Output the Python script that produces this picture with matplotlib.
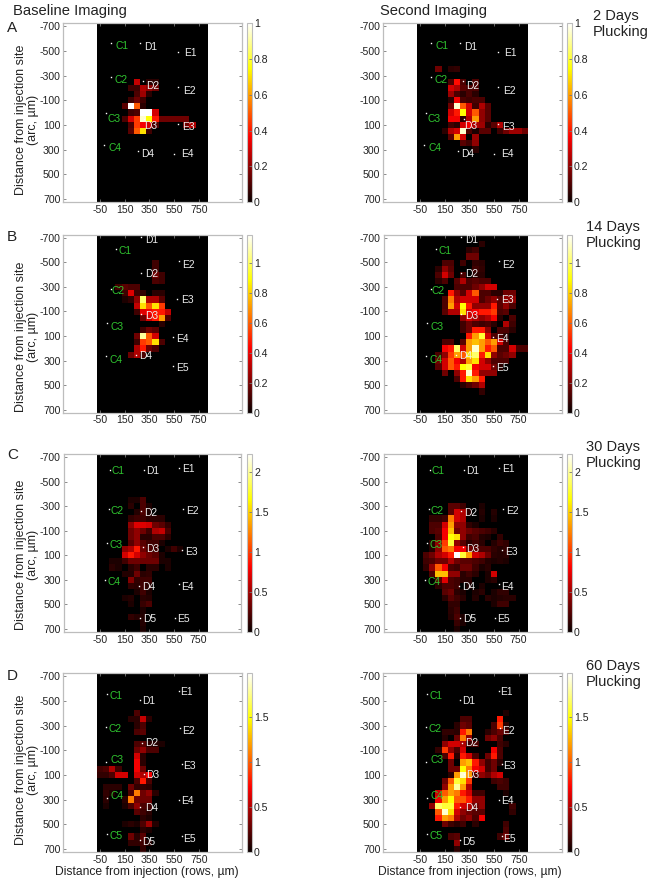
import numpy as np
import matplotlib
matplotlib.use('Agg')
import matplotlib.pyplot as plt

plt.rcParams['font.family'] = ['Liberation Sans', 'DejaVu Sans']
plt.rcParams['axes.unicode_minus'] = False

W, H = 656, 883

# heatmap cells: row -> (first column, values), as a fraction of the colour scale
# rows run -700..700 and columns -50..800, both in 50 um steps
a_base = {
    9: (6, [.28, 0, .05, .05]),
    10: (5, [.08, .08, .25, .2, .15]),
    11: (6, [.1, .22, .05]),
    12: (5, [.08, .15, .08]),
    13: (4, [.12, 1, .5, .05]),
    14: (5, [.08, .1, 1, 1, .3]),
    15: (4, [.1, .3, .45, .95, .75, .4, .15, .15, .15, .15, .15]),
    16: (5, [.1, .45, .35, .3, .1, 0, 0, 0, 0, .15, .25]),
    17: (5, [.12, .5, .7, .08]),
}
a_second = {
    7: (3, [.15, 0, .05, .06]),
    9: (5, [.1, .38, .1, 0, .1]),
    10: (5, [.3, .25, .12, .1, .1]),
    11: (5, [.22, .1, .05, .1, .05]),
    12: (5, [.05, .35, .1, .08, .1, .1]),
    13: (5, [.15, .95, .5, .3, .08, .25, .12]),
    14: (5, [.3, .4, .75, .3, .5, .2, .12]),
    15: (5, [.35, .35, .05, .25, .6, .2, .12]),
    16: (5, [.08, .05, .3, .35, .25, .22, .05, .12, .25]),
    17: (4, [.05, .25, .3, .95, .1, .03, .12, .12, 0, .08, .15, .22, .22, .15]),
    18: (5, [.12, .6, .3, 0, .22]),
    19: (7, [.12, .08, .2]),
    20: (9, [.05]),
}
b_base = {
    4: (9, [.08]),
    5: (9, [.08]),
    6: (9, [.15, .08]),
    7: (9, [.1, .08]),
    8: (3, [.08, .12, .1, .1]),
    9: (4, [.08, .32, .08, .06, 0, .05, .05]),
    10: (4, [.03, .06, .2, .85, .25, .25, .12]),
    11: (6, [.28, .7, .5, .7, .45]),
    12: (6, [.08, .32, .35, .4, .4, .28]),
    13: (7, [.15, .3, .4, .6, .1]),
    14: (10, [.05]),
    15: (7, [.08, .15, .12]),
    16: (6, [.15, .9, .5, .3]),
    17: (6, [.08, .45, .5, .7, .1]),
    18: (6, [.25, .4, .15, .1]),
    19: (5, [.15, .25, .1]),
}
b_second = {
    1: (10, [.05]),
    2: (8, [.05, .08]),
    3: (8, [.15, .15]),
    4: (4, [.1, .1, 0, .08, 0, .06, .05]),
    5: (3, [.05, .2, .12, 0, 0, 0, .08, .06]),
    6: (3, [.1, .3, .15, 0, .1, 0, .05, .05]),
    7: (3, [.05, .1, 0, .12, .25, .1, .12, .1, .1]),
    8: (6, [.1, .1, .1, .15, .2, .3, .3]),
    9: (5, [.4, .2, .12, .3, .5, .1, .1, .05, .05, .15, .15]),
    10: (4, [.1, .55, .25, .3, .3, .3, .1, .15, .2, .12, .2, .2]),
    11: (4, [.1, .6, .3, .75, .4, .2, .2, .2, .4, .12, .2, .1]),
    12: (4, [.12, .25, .25, .7, .3, .35, .4, .4, .45, .1, .12]),
    13: (7, [.2, .3, .25, .2, .25, .35, .05, 0, .1]),
    14: (7, [.08, .15, .1, .08, .1, .05, 0, .25, .08]),
    15: (7, [.08, .15, .4, .4, .2, 0, .1, .1, .05]),
    16: (8, [.4, .6, .8, .3, .1, .1, .05]),
    17: (4, [.1, .1, 0, .12, .6, .65, .6, .5, .6, .3, .1]),
    18: (4, [.35, .4, .85, .3, .6, .95, .6, .4, .5, .1, .1, .3, .1, .1]),
    19: (3, [.1, .2, .45, .6, .5, .7, .85, .4, .7, .2, .12, .15, .2]),
    20: (3, [.15, .3, .5, .35, .25, .6, .7, .3, .2, .1, .1, .1]),
    21: (3, [.12, .3, .5, .4, .75, .8, .35, .3, .3, .15, .05]),
    22: (4, [.15, 0, .2, .4, .95, .4, .2, .2, .2]),
    23: (6, [.1, .4, .7, .6, .4]),
    24: (7, [.05, .1, .15, .25]),
    25: (10, [.06]),
}
c_base = {
    7: (5, [.03, .03, .1]),
    8: (5, [.05, 0, .1, .03]),
    9: (6, [.04, .1, .03]),
    10: (5, [.06, .08, .08, .05, .05, .05]),
    11: (5, [.2, .32, .32, .3, .15, .12, .06]),
    12: (5, [.15, .2, .15, .08, .25, .28, .1]),
    13: (5, [.15, .2, .05, .05, .1, .1, .05]),
    14: (5, [.12, .2, .12, .08, .08, .03]),
    15: (4, [.2, .25, .4, .15, .1, .08, 0, .03, .08, .03]),
    16: (4, [.3, .4, .3, .2, .15, .12, .03]),
    17: (2, [.03, .03, .08, .15, .15, .15, .15, .15, .03, .03]),
    18: (2, [.05, .03, 0, .05, .08, 0, .05, .05, 0, .03]),
    19: (4, [.04, .04, .15, .05, .06]),
    20: (5, [.18, .06, .08, .08]),
    21: (5, [.06, .05, .08, .05]),
    22: (6, [.03, .08, .03]),
    23: (4, [.03, .04, 0, .05, .04]),
    24: (5, [.03, 0, .07, .1]),
    25: (7, [.03]),
    26: (5, [.06, .04, .04]),
    27: (7, [.04]),
    28: (7, [.03]),
}
c_second = {
    8: (5, [.12, .12, .08, 0, 0, .03]),
    9: (5, [.12, .3, .25, .05, 0, .04, 0, .04]),
    10: (2, [.06, .06, .08, .55, .3, .25, 0, 0, .03, 0, .03]),
    11: (2, [.1, .1, .3, .6, .2, .2, .06, .03]),
    12: (2, [.1, .12, .35, .65, .15, .2, .15, .12, .1, .08, .05]),
    13: (3, [.1, .35, .75, .7, .2, .08, .1, .04, .03, 0, .06]),
    14: (2, [.05, .2, .45, .8, .2, .12, .05, .08, .05, 0, .04, .08, .06]),
    15: (2, [.04, .2, .5, .55, .35, .35, .15, .12, .1, .1, .06, .04, .06]),
    16: (1, [.1, .15, .25, .3, .4, 1, .8, .6, .3, .25, .15, .05, .04, .05]),
    17: (1, [.08, .1, .15, .15, .25, .15, .12, .12, .1, .08, .04, .03, .04, .03]),
    18: (1, [.06, .2, .5, .35, .1, .08, .15, .15, .08, .03, .05]),
    19: (2, [.1, .65, .65, .2, .2, .05, .08, .05, 0, .03, .3]),
    20: (3, [.12, .32, .1, .08, .05, .05, 0, 0, .03, .05]),
    21: (3, [.05, .1, .1, .08, 0, .03, 0, .03]),
    22: (4, [.12, .15, .05, .03, 0, .03, .05, 0, .03, .06, .06]),
    23: (4, [.05, .12, .08, .05, 0, .04, 0, .05, .03, .04, .05, .05]),
    24: (5, [.06, .06, 0, 0, 0, 0, 0, .03, .08, .08]),
    25: (5, [.05, .08]),
    26: (5, [.04, .1, .03]),
    27: (6, [.07, .03]),
    28: (6, [.03]),
}
d_base = {
    6: (6, [.1]),
    7: (5, [.05, .05, .28, .05]),
    8: (6, [.05, .1]),
    9: (6, [.1, .12]),
    11: (6, [.1, .12, .05, .04, .03]),
    12: (6, [.15, .2, .1, .1]),
    13: (6, [.3, .05]),
    14: (6, [.35, .05]),
    15: (0, [.08, .1, .25, .08, 0, 0, .35, .15]),
    16: (0, [.06, .06, .1, .3, .3, 0, .3, .25, .35]),
    17: (6, [.1, .4, .1]),
    18: (1, [.05, .05, .05, 0, .15, .06, .06, .05]),
    19: (1, [.06, .03, 0, 0, .1, .55, .15, .2, .05]),
    20: (1, [.05, 0, 0, .05, .55, .15, .15, .15]),
    21: (1, [.03, 0, 0, .03, .1, .2, .1, .08]),
    22: (6, [.12, .08, .05]),
    23: (7, [.05, .03]),
    24: (4, [.03, .05, .03, .1, .22, .04]),
    25: (7, [.05, .03]),
    26: (5, [.15, .05, .12]),
    27: (5, [.06, .06, .08, .04]),
    28: (7, [.06]),
}
d_second = {
    6: (14, [.03]),
    7: (7, [.1, .1, 0, 0, 0, 0, .4]),
    8: (6, [.05, .15, .12, 0, 0, 0, .1, .45, .05]),
    9: (4, [.06, .06, .05, .4, .55, 0, 0, .05, .1, .15, .1]),
    10: (4, [.04, 0, .15, .55, .2, 0, 0, .15, .2, .1]),
    11: (4, [.2, .3, .3, .25, .08, .1, 0, 0, 0, .08, .05]),
    12: (3, [.06, .45, .2, .1, .3, 0, 0, 0, 0, .35, .1]),
    13: (4, [.1, .4, .05, .4, .3, .1, 0, .15, .4, .1]),
    14: (5, [.15, 0, .6, .65, .4, .2, .08, .15, .05]),
    15: (5, [.15, .15, .75, .55, .35, .3, .08, .15]),
    16: (5, [.05, .6, .95, .6, .1, .2, .15, .25, .3]),
    17: (4, [.15, .5, .8, .7, .45, 0, 0, 0, .08, .1, .08]),
    18: (4, [.2, .6, .9, .6, .25, 0, 0, 0, 0, .08, .08]),
    19: (3, [.3, .5, .6, .55, .4, .3, .08, .08, 0, 0, 0, .03]),
    20: (3, [.35, .6, .75, .5, .5, .4, .2, .2]),
    21: (2, [.2, .85, .8, .8, .4, .3, .25, .15, .2, 0, 0, 0, 0, .08]),
    22: (3, [.5, .95, .7, .3, .2, .15, .12, .12, 0, 0, 0, 0, .06]),
    23: (3, [.4, .6, .55, .25, .15, .2, .1, .35]),
    24: (4, [.15, .08, .05, .08, 0, .05, 0, 0, 0, 0, .08]),
    25: (14, [.1]),
    26: (5, [.1, .12, 0, 0, 0, 0, 0, 0, .08, .15]),
    27: (6, [.2]),
    28: (6, [.05]),
}

# top of each colour bar and its labelled ticks
cmax = [1.0, 1.187, 2.23, 1.98]
cticks = [
    [0, .2, .4, .6, .8, 1],
    [0, .2, .4, .6, .8, 1],
    [0, .5, 1, 1.5, 2],
    [0, .5, 1, 1.5],
]

# follicle labels: name, dot x, dot y, text x, text y (um)
a_labels = [
    ('C1', 39, -568, 125, -544), ('D1', 271, -563, 363, -536), ('E1', 582, -493, 679, -484),
    ('C2', 36, -293, 120, -263), ('D2', 298, -257, 374, -217), ('E2', 582, -206, 676, -179),
    ('C3', -2, -1, 60, 48), ('D3', 309, 53, 357, 105), ('E3', 582, 91, 663, 116),
    ('C4', -16, 262, 71, 286), ('D4', 255, 310, 339, 337), ('E4', 552, 337, 658, 332),
]
b_labels = [
    ('D1', 282, -703, 368, -682), ('C1', 76, -606, 152, -593), ('D2', 282, -409, 368, -401),
    ('E2', 593, -514, 668, -482), ('C2', 36, -279, 95, -263), ('E3', 571, -203, 663, -190),
    ('D3', 282, -79, 368, -65), ('C3', 1, -3, 90, 26), ('E4', 544, 105, 622, 121),
    ('D4', 244, 251, 322, 267), ('C4', -5, 264, 79, 297), ('E5', 539, 348, 617, 364),
]
c_labels = [
    ('C1', 28, -598, 90, -584), ('D1', 303, -595, 374, -587), ('E1', 590, -611, 668, -603),
    ('C2', 22, -274, 84, -257), ('D2', 282, -260, 360, -244), ('E2', 620, -276, 703, -260),
    ('C3', 1, -3, 79, 18), ('D3', 295, 35, 376, 45), ('E3', 612, 53, 693, 75),
    ('C4', -13, 299, 63, 318), ('D4', 266, 348, 344, 362), ('E4', 587, 337, 660, 359),
    ('D5', 274, 613, 352, 618), ('E5', 557, 608, 630, 618),
]
d_labels = [
    ('C1', 3, -555, 76, -538), ('D1', 276, -509, 347, -498), ('E1', 593, -579, 649, -574),
    ('C2', 1, -293, 71, -276), ('E2', 601, -284, 668, -257), ('D2', 290, -163, 368, -157),
    ('C3', -2, -3, 84, -22), ('E3', 614, 10, 671, 26), ('D3', 309, 94, 379, 102),
    ('C4', 9, 286, 84, 270), ('E4', 590, 302, 660, 313), ('D4', 274, 362, 366, 372),
    ('C5', 3, 581, 76, 599), ('E5', 614, 599, 676, 616), ('D5', 271, 629, 347, 640),
]

panel_letters = ['A', 'B', 'C', 'D']
right_notes = ['2 Days\nPlucking', '14 Days\nPlucking', '30 Days\nPlucking', '60 Days\nPlucking']
note_x = [593, 586, 586, 586]
note_y = [24, 235, 455, 674]
x_ticks = [-50, 150, 350, 550, 750]
y_ticks = [-700, -500, -300, -100, 100, 300, 500, 700]

base_maps = [a_base, b_base, c_base, d_base]
second_maps = [a_second, b_second, c_second, d_second]
all_labels = [a_labels, b_labels, c_labels, d_labels]

# pixel layout of the rows and columns
row_top = [23.3, 234.7, 454, 673.3]
row_bottom = [202, 412.7, 632, 852]
col_left = [63, 383]
col_right = [242, 562]
bar_left = [247, 567]
ylabel_y = [120, 336.7, 555, 770]
letter_y = [28, 237, 455, 676]

GRAY = '#bdbdbd'
TXT = '#222222'

# pure black for empty cells, as in the reference
hot = plt.get_cmap('hot').copy()
hot.set_under('black')


def grid(rows):
    g = np.zeros((29, 18))
    for r, (c, vals) in rows.items():
        g[r, c:c + len(vals)] = vals
    return g


def add_axes(left, top, right, bottom):
    return fig.add_axes([left / W, 1 - bottom / H, (right - left) / W, (bottom - top) / H])


def style_spines(ax):
    for s in ax.spines.values():
        s.set_color(GRAY)
        s.set_linewidth(0.9)


fig = plt.figure(figsize=(W / 100, H / 100), dpi=100, facecolor='white')

for i in range(4):
    for j, maps in enumerate([base_maps, second_maps]):
        ax = add_axes(col_left[j], row_top[i], col_right[j], row_bottom[i])
        im = ax.imshow(grid(maps[i]) * cmax[i], cmap=hot, vmin=1e-6, vmax=cmax[i],
                       extent=[-75, 825, 725, -725], interpolation='nearest', aspect='equal')
        ax.set_xlim(-350, 1100)
        ax.set_ylim(725, -725)
        ax.set_xticks(x_ticks)
        ax.set_yticks(y_ticks)
        ax.tick_params(direction='in', length=2, width=0.6, color='#777777', labelsize=7.6,
                       labelcolor=TXT, pad=2, top=True, right=True)
        style_spines(ax)

        for name, dx, dy, tx, ty in all_labels[i]:
            col = '#2fc42f' if name[0] == 'C' else '#ececec'
            ax.plot(dx, dy, marker='s', ms=1.0, mew=0, color='white')
            ax.text(tx, ty, name, color=col, fontsize=7.4, ha='center', va='center')

        # colour bar
        cax = add_axes(bar_left[j], row_top[i], bar_left[j] + 5, row_bottom[i])
        cb = fig.colorbar(im, cax=cax)
        cb.set_ticks(cticks[i])
        cb.set_ticklabels([str(t) for t in cticks[i]])
        cax.tick_params(direction='in', length=2, width=0.6, color='#777777', labelsize=7.6,
                        labelcolor=TXT, pad=1.5)
        cb.outline.set_edgecolor(GRAY)
        cb.outline.set_linewidth(0.8)

    fig.text(7 / W, 1 - letter_y[i] / H, panel_letters[i], fontsize=11, color=TXT, ha='left', va='center')
    fig.text(27 / W, 1 - ylabel_y[i] / H, 'Distance from injection site\n(arc, µm)', rotation=90,
             fontsize=9, color=TXT, ha='center', va='center', linespacing=1.05)
    fig.text(note_x[i] / W, 1 - note_y[i] / H, right_notes[i], fontsize=10.5, color=TXT,
             ha='left', va='center', linespacing=1.2)

fig.text(13 / W, 1 - 11 / H, 'Baseline Imaging', fontsize=10.6, color=TXT, ha='left', va='center')
fig.text(380 / W, 1 - 11 / H, 'Second Imaging', fontsize=10.6, color=TXT, ha='left', va='center')
fig.text(147 / W, 1 - 872 / H, 'Distance from injection (rows, µm)', fontsize=8.7, color=TXT, ha='center', va='center')
fig.text(470 / W, 1 - 872 / H, 'Distance from injection (rows, µm)', fontsize=8.7, color=TXT, ha='center', va='center')

fig.savefig('out.png', dpi=100)
